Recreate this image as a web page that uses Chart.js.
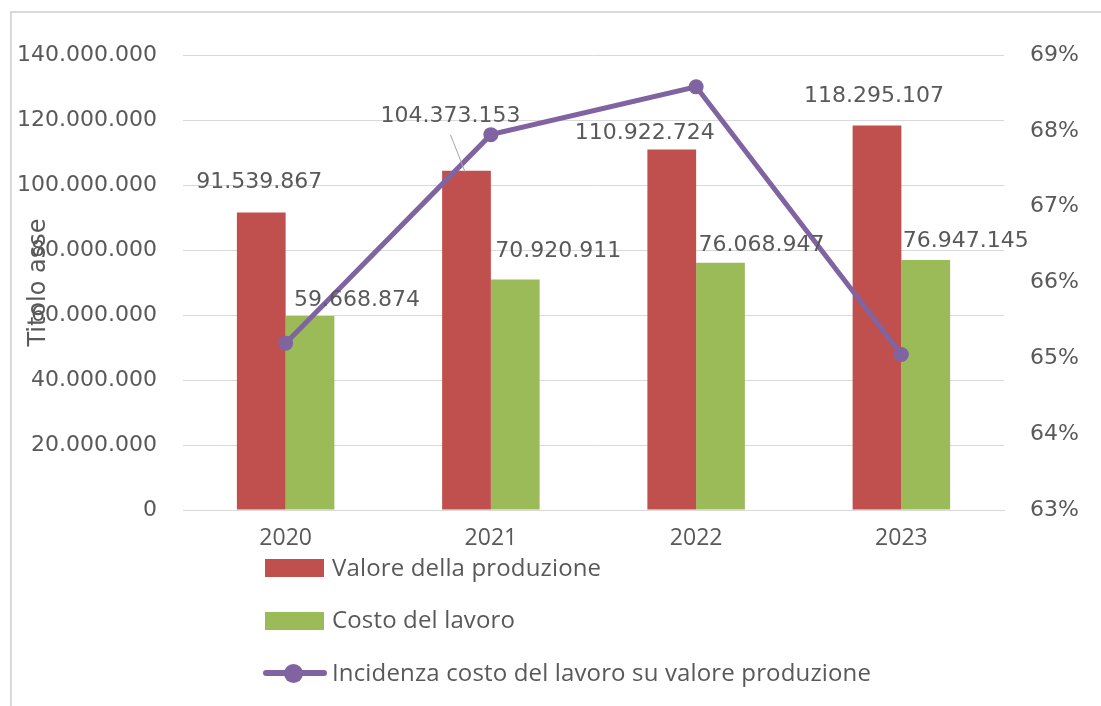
<!DOCTYPE html>
<html lang="it">
<head>
<meta charset="utf-8">
<title>Valore della produzione e costo del lavoro</title>
<script src="https://cdn.jsdelivr.net/npm/chart.js@4.4.1/dist/chart.umd.min.js"></script>
<style>
  html, body { margin: 0; padding: 0; background: #fff; }
  body { width: 1101px; height: 706px; position: relative; overflow: hidden; }
  .frame { position: absolute; left: 10px; top: 11px; width: 1200px; height: 800px; border: 2px solid #d9d9d9; box-sizing: border-box; }
  #chart { position: absolute; left: 0; top: 0; }
  #legend { position: absolute; left: 263px; top: 554px; font-family: 'Open Sans', sans-serif; font-size: 24px; letter-spacing: 0.15px; color: #595959; }
  .leg { display: flex; align-items: center; height: 28px; margin-bottom: 24.5px; white-space: nowrap; }
  .leg-txt { position: relative; top: -2px; }
  .leg-sq { width: 59px; height: 18px; margin: 0 8px 0 2px; }
  .leg-line { position: relative; width: 64px; height: 20px; margin-right: 5px; }
  .leg-line .bar { position: absolute; left: 0; right: 0; top: 7px; height: 6px; border-radius: 3px; }
  .leg-line .dot { position: absolute; left: 20.5px; top: 0.5px; width: 19px; height: 19px; border-radius: 50%; }
</style>
</head>
<body>
<div class="frame"></div>
<canvas id="chart" width="1101" height="706"></canvas>
<div id="legend"></div>
<script>
var YEARS = ['2020', '2021', '2022', '2023'];
var VALORE = [91539867, 104373153, 110922724, 118295107];
var COSTO = [59668874, 70920911, 76068947, 76947145];
var INCIDENZA = [0.652, 0.6795, 0.6858, 0.6505];

var LEFT_MIN = 0, LEFT_MAX = 140000000, LEFT_STEP = 20000000;
var RIGHT_MIN = 0.63, RIGHT_MAX = 0.69, RIGHT_STEP = 0.01;

var COLORS = {
  RED: '#C0504D',
  GREEN: '#9BBB59',
  PURPLE: '#8064A2',
  TEXT: '#595959',
  GRID: '#d9d9d9',
};

// label placement relative to bar centre / bar top: [dx, dy, leader line]
var LABEL_SHIFT = [
  [[-2, -30], [-16, -55, true], [-27, -16], [-3, -29]],
  [[47, -16], [43, -28], [41, -17], [40, -19]],
];

var WIDE = "'DejaVu Sans', sans-serif";
var SOFT = "'Open Sans', sans-serif";

function fmt(v) {
  return String(Math.round(v)).replace(/\B(?=(\d{3})+(?!\d))/g, '.');
}

var barLabels = {
  id: 'barLabels',
  afterDatasetsDraw: function (chart) {
    var ctx = chart.ctx;
    ctx.save();
    ctx.font = '22px ' + WIDE;
    ctx.fillStyle = COLORS.TEXT;
    ctx.textAlign = 'center';
    ctx.textBaseline = 'middle';
    [0, 1].forEach(function (di) {
      var meta = chart.getDatasetMeta(di);
      var values = chart.data.datasets[di].data;
      meta.data.forEach(function (el, i) {
        var s = LABEL_SHIFT[di][i];
        var lx = el.x + s[0], ly = el.y + s[1];
        if (s[2]) {
          ctx.strokeStyle = '#a6a6a6';
          ctx.lineWidth = 1;
          ctx.beginPath();
          ctx.moveTo(lx, ly + 19);
          ctx.lineTo(el.x - 1.5, el.y + 1);
          ctx.stroke();
        }
        ctx.fillText(fmt(values[i]), lx, ly);
      });
    });
    ctx.restore();
  },
};

var htmlLegend = {
  id: 'htmlLegend',
  afterUpdate: function (chart) {
    var box = document.getElementById('legend');
    box.innerHTML = '';
    chart.data.datasets.forEach(function (ds) {
      var row = document.createElement('div');
      row.className = 'leg';
      var icon = document.createElement('span');
      if (ds.type === 'line') {
        icon.className = 'leg-line';
        icon.innerHTML = '<span class="bar" style="background:' + ds.borderColor + '"></span>' +
          '<span class="dot" style="background:' + ds.borderColor + '"></span>';
      } else {
        icon.className = 'leg-sq';
        icon.style.background = ds.backgroundColor;
      }
      var txt = document.createElement('span');
      txt.className = 'leg-txt';
      txt.textContent = ds.label;
      row.appendChild(icon);
      row.appendChild(txt);
      box.appendChild(row);
    });
  },
};

new Chart(document.getElementById('chart'), {
  type: 'bar',
  data: {
    labels: YEARS,
    datasets: [
      { label: 'Valore della produzione', data: VALORE, backgroundColor: COLORS.RED, yAxisID: 'y', order: 1 },
      { label: 'Costo del lavoro', data: COSTO, backgroundColor: COLORS.GREEN, yAxisID: 'y', order: 1 },
      {
        type: 'line',
        label: 'Incidenza costo del lavoro su valore produzione',
        data: INCIDENZA,
        yAxisID: 'y1',
        order: 0,
        borderColor: COLORS.PURPLE,
        backgroundColor: COLORS.PURPLE,
        borderWidth: 5,
        pointRadius: 7.5,
        pointBorderWidth: 0,
        pointBackgroundColor: COLORS.PURPLE,
        tension: 0,
      },
    ],
  },
  options: {
    responsive: false,
    animation: false,
    devicePixelRatio: 1,
    layout: { padding: { left: 14, right: 0, top: 55, bottom: 0 } },
    datasets: { bar: { categoryPercentage: 0.475, barPercentage: 1 } },
    plugins: { legend: { display: false }, tooltip: { enabled: false } },
    scales: {
      x: {
        grid: { display: false },
        border: { color: COLORS.GRID, width: 1 },
        ticks: { color: COLORS.TEXT, font: { family: SOFT, size: 23 }, padding: 7 },
        afterFit: function (s) { s.height = 196; },
      },
      y: {
        position: 'left',
        min: LEFT_MIN,
        max: LEFT_MAX,
        border: { display: false },
        grid: { color: COLORS.GRID, lineWidth: 1, drawTicks: false },
        ticks: {
          stepSize: LEFT_STEP,
          padding: 26,
          color: COLORS.TEXT,
          font: { family: WIDE, size: 22 },
          callback: function (v) { return fmt(v); },
        },
        title: {
          display: true,
          text: 'Titolo asse',
          color: COLORS.TEXT,
          font: { family: WIDE, size: 24 },
          padding: { top: 10, bottom: 0 },
        },
        afterFit: function (s) { s.width = 169; },
      },
      y1: {
        position: 'right',
        min: RIGHT_MIN,
        max: RIGHT_MAX,
        border: { display: false },
        grid: { display: false, drawTicks: false },
        ticks: {
          stepSize: RIGHT_STEP,
          padding: 26,
          color: COLORS.TEXT,
          font: { family: WIDE, size: 22 },
          callback: function (v) { return Math.round(v * 100) + '%'; },
        },
        afterFit: function (s) { s.width = 97; },
      },
    },
  },
  plugins: [barLabels, htmlLegend],
});
</script>
</body>
</html>
